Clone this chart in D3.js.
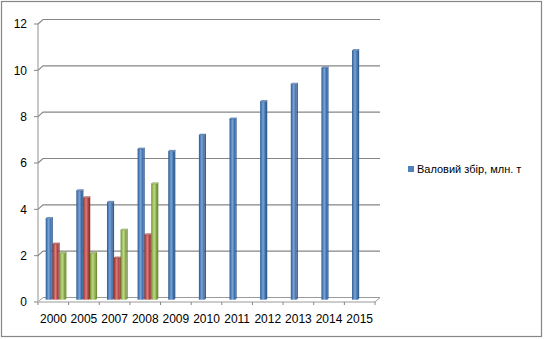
<!DOCTYPE html>
<html>
<head>
<meta charset="utf-8">
<script src="https://cdnjs.cloudflare.com/ajax/libs/d3/7.8.5/d3.min.js"></script>
<style>
  html, body { margin: 0; padding: 0; background: #fff; }
  svg { display: block; font-family: "Liberation Sans", Arial, sans-serif; }
</style>
</head>
<body>
<svg id="chart" width="544" height="339"></svg>
<script>
// Years on the category axis
const years = ["2000", "2005", "2007", "2008", "2009", "2010", "2011", "2012", "2013", "2014", "2015"];
// Series values (null = no bar for that year)
const seriesBlue  = [3.5, 4.7, 4.2, 6.5, 6.4, 7.1, 7.8, 8.55, 9.3, 10.0, 10.75];
const seriesRed   = [2.4, 4.4, 1.8, 2.8, null, null, null, null, null, null, null];
const seriesGreen = [2.0, 2.0, 3.0, 5.0, null, null, null, null, null, null, null];
const seriesNames = ["blue", "red", "green"];
const yTicks = [0, 2, 4, 6, 8, 10, 12];
const legendLabel = "Валовий збір, млн. т";

const palette = {
  blue:  { dark: "#2c5588", mid: "#4f81bd", light: "#7aa3d6", top: "#8fb2de", side: "#365f91" },
  red:   { dark: "#8a302d", mid: "#c0504d", light: "#d9807d", top: "#e09a98", side: "#8f3431" },
  green: { dark: "#6b8a2f", mid: "#9bbb59", light: "#bdd68b", top: "#cbe0a0", side: "#728c3d" }
};

const svg = d3.select("#chart");

// Chart frame
svg.append("rect")
  .attr("x", 1.5).attr("y", 1.5).attr("width", 540).attr("height", 335)
  .attr("fill", "#fff").attr("stroke", "#868686").attr("stroke-width", 1.2);

// Front plane scales; the back wall is the same plane pushed by (DX, DY)
const x = d3.scaleBand().domain(years).range([38, 375]).paddingInner(0).paddingOuter(0);
const xs = d3.scaleBand().domain(seriesNames).range([0, x.bandwidth()]).paddingInner(0).paddingOuter(0.75);
const y = d3.scaleLinear().domain([0, 12]).range([302, 24]);
const DX = 5, DY = -4.5;

// Gradients for the column faces
const defs = svg.append("defs");
seriesNames.forEach(s => {
  const c = palette[s];
  const g = defs.append("linearGradient").attr("id", "g-" + s)
    .attr("x1", "0%").attr("x2", "100%").attr("y1", "0%").attr("y2", "0%");
  g.append("stop").attr("offset", "0%").attr("stop-color", c.dark);
  g.append("stop").attr("offset", "25%").attr("stop-color", c.mid);
  g.append("stop").attr("offset", "50%").attr("stop-color", c.light);
  g.append("stop").attr("offset", "78%").attr("stop-color", c.mid);
  g.append("stop").attr("offset", "100%").attr("stop-color", c.dark);
});

const x0 = x.range()[0], x1 = x.range()[1];

// Floor
svg.append("path")
  .attr("d", `M${x0},${y(0)} L${x1},${y(0)} L${x1 + DX},${y(0) + DY} L${x0 + DX},${y(0) + DY} Z`)
  .attr("fill", "none").attr("stroke", "#9a9a9a").attr("stroke-width", 1);

// Left side wall edge
svg.append("line")
  .attr("x1", x0).attr("x2", x0).attr("y1", y(12)).attr("y2", y(0))
  .attr("stroke", "#c8c8c8").attr("stroke-width", 2);

// Gridlines on side and back wall
const grid = svg.append("g");
yTicks.filter(t => t > 0).forEach(t => {
  grid.append("path")
    .attr("d", `M${x0},${y(t)} L${x0 + DX},${y(t) + DY} L${x1 + DX},${y(t) + DY}`)
    .attr("fill", "none").attr("stroke", "#868686").attr("stroke-width", 1.1);
});

// Value axis ticks and labels
const yAxis = svg.append("g");
yTicks.forEach(t => {
  yAxis.append("line").attr("x1", x0 - 4).attr("x2", x0)
    .attr("y1", y(t)).attr("y2", y(t)).attr("stroke", "#868686");
  yAxis.append("text").attr("x", 27).attr("y", y(t)).attr("dy", "0.35em")
    .attr("text-anchor", "end").attr("font-size", 12).attr("fill", "#000").text(t);
});

// Category axis ticks and labels
const xAxis = svg.append("g");
years.concat([null]).forEach((yr, i) => {
  const px = yr === null ? x1 : x(yr);
  xAxis.append("line").attr("x1", px).attr("x2", px)
    .attr("y1", y(0)).attr("y2", y(0) + 3).attr("stroke", "#868686");
});
years.forEach(yr => {
  xAxis.append("text").attr("x", x(yr) + x.bandwidth() / 2).attr("y", 323)
    .attr("text-anchor", "middle").attr("font-size", 12).attr("fill", "#000").text(yr);
});

// 3D columns: placed at mid depth, front face + right side + top
const BX = 2.6, BY = -2.3;     // offset of the column front into the depth
const SX = 1.3, SY = -1.1;     // column depth
const rows = [];
years.forEach((yr, i) => {
  [["blue", seriesBlue], ["red", seriesRed], ["green", seriesGreen]].forEach(([s, arr]) => {
    if (arr[i] != null) rows.push({ year: yr, series: s, value: arr[i] });
  });
});

const bars = svg.append("g").selectAll("g").data(rows).join("g");
const w = xs.bandwidth() - SX + 0.3;
bars.each(function(d) {
  const g = d3.select(this);
  const c = palette[d.series];
  const left = x(d.year) + xs(d.series) + BX;
  const top = y(d.value) + BY;
  const bottom = y(0) + BY;
  // right side
  g.append("path")
    .attr("d", `M${left + w},${top} L${left + w + SX},${top + SY} L${left + w + SX},${bottom + SY} L${left + w},${bottom} Z`)
    .attr("fill", c.side);
  // front
  g.append("rect").attr("x", left).attr("y", top).attr("width", w).attr("height", bottom - top)
    .attr("fill", `url(#g-${d.series})`);
  // top
  g.append("path")
    .attr("d", `M${left},${top} L${left + SX},${top + SY} L${left + w + SX},${top + SY} L${left + w},${top} Z`)
    .attr("fill", c.top).attr("stroke", c.dark).attr("stroke-width", 0.5);
});

// Legend
const legend = svg.append("g").attr("transform", "translate(408,166)");
legend.append("rect").attr("width", 6).attr("height", 6).attr("fill", palette.blue.mid);
legend.append("text").attr("x", 9).attr("y", 3).attr("dy", "0.35em")
  .attr("font-size", 11).attr("fill", "#000").text(legendLabel);
</script>
</body>
</html>
